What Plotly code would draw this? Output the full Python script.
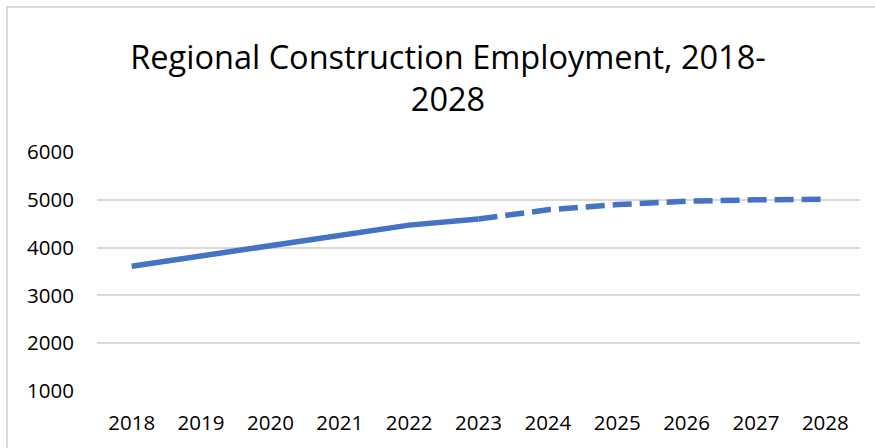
import plotly.graph_objects as go

years = ["2018", "2019", "2020", "2021", "2022", "2023", "2024", "2025", "2026", "2027", "2028"]
actual_years = years[:6]
actual_values = [3610, 3820, 4030, 4250, 4470, 4600]
proj_years = years[5:]
proj_values = [4600, 4790, 4900, 4970, 5000, 5010]
y_ticks = [1000, 2000, 3000, 4000, 5000, 6000]

W, H = 875, 448
L, R, T, B = 97, 15, 152, 57
color = "#4472C4"

fig = go.Figure()
fig.add_trace(go.Scatter(x=actual_years, y=actual_values, mode="lines",
                         line=dict(color=color, width=5.5), showlegend=False,
                         hoverinfo="skip"))
fig.add_trace(go.Scatter(x=proj_years, y=proj_values, mode="lines",
                         line=dict(color=color, width=5.5, dash="19px,8px"), showlegend=False,
                         hoverinfo="skip"))

pw = W - L - R
ph = H - T - B
fig.add_shape(type="rect", xref="paper", yref="paper",
              x0=(7 - L) / pw, x1=(W + 20 - L) / pw,
              y0=-(B + 20) / ph, y1=(H - B - 7) / ph,
              line=dict(color="#d9d9d9", width=2), layer="below")

fig.update_layout(
    width=W, height=H,
    margin=dict(l=L, r=R, t=T, b=B),
    paper_bgcolor="white", plot_bgcolor="white",
    title=dict(text="Regional Construction Employment, 2018-<br>2028",
               font=dict(family="Open Sans", size=32.5, color="#000000"),
               x=448 / W, xref="container", xanchor="center",
               y=1 - 69 / H, yref="container", yanchor="middle"),
    xaxis=dict(type="category", categoryarray=years, range=[-0.5, 10.5],
               showgrid=False, zeroline=False, showline=False, ticks="",
               ticklabelstandoff=17,
               tickfont=dict(family="Open Sans", size=20.5, color="#000000")),
    yaxis=dict(range=[1000, 6000], tickvals=y_ticks, showgrid=True,
               gridcolor="#d9d9d9", gridwidth=1.5, zeroline=False, showline=False,
               ticks="", ticklabelstandoff=22,
               tickfont=dict(family="Open Sans", size=20.5, color="#000000")),
)
fig.write_html("out.html", config={"displayModeBar": False},
               post_script="document.body.style.margin='0px';document.body.style.overflow='hidden';")
